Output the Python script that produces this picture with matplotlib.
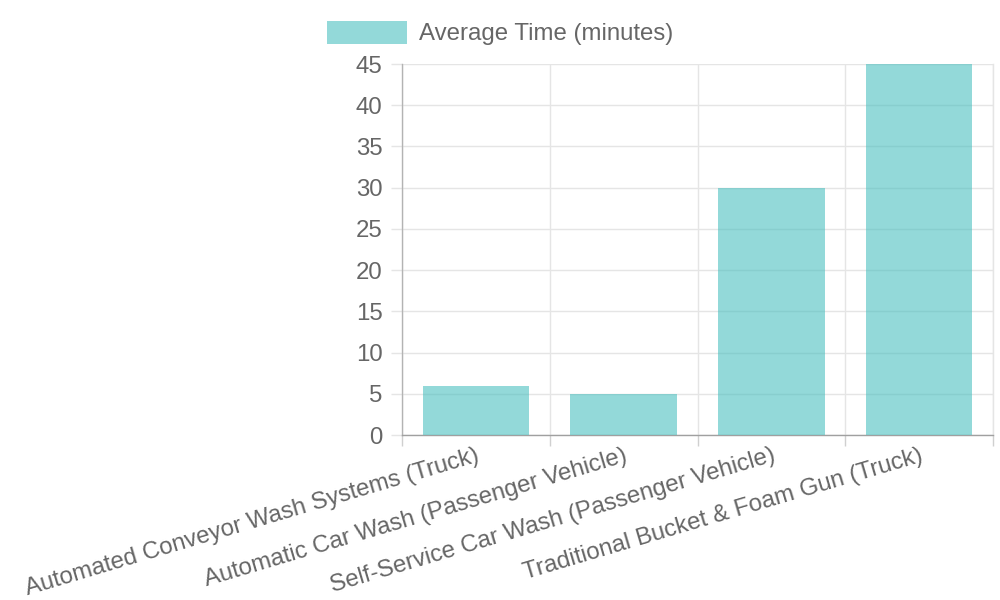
import matplotlib
matplotlib.use("Agg")
import matplotlib.pyplot as plt
from matplotlib.patches import Patch
import numpy as np

categories = [
    "Automated Conveyor Wash Systems (Truck)",
    "Automatic Car Wash (Passenger Vehicle)",
    "Self-Service Car Wash (Passenger Vehicle)",
    "Traditional Bucket & Foam Gun (Truck)",
]
values = [6, 5, 30, 45]
series_label = "Average Time (minutes)"
y_ticks = [0, 5, 10, 15, 20, 25, 30, 35, 40, 45]

plt.rcParams['font.family'] = ['Liberation Sans', 'DejaVu Sans']
TXT = "#666666"
GRID = "#e5e5e5"
FILL = (75/255, 192/255, 192/255, 0.6)
FS = 24 * 72 / 100

fig = plt.figure(figsize=(10, 6), dpi=100)
ax = fig.add_axes([0.402, 0.275, 0.591, 0.6183])

x = np.arange(len(categories))
ax.bar(x, values, width=0.72, color=FILL, edgecolor=FILL, linewidth=0, zorder=3)

ax.set_xlim(-0.5, len(categories) - 0.5)
ax.set_ylim(0, 45)
ax.set_yticks(y_ticks)
ax.set_yticklabels([str(v) for v in y_ticks], fontsize=FS, color=TXT)
ax.tick_params(axis='y', length=8, color=GRID, width=1, pad=6)

ax.set_xticks(x)
ax.set_xticklabels(categories, rotation=16.5, ha='right', rotation_mode='anchor',
                   fontsize=FS, color=TXT)
ax.tick_params(axis='x', which='major', length=0, pad=7)
ax.set_xticks(np.arange(-0.5, len(categories), 1.0), minor=True)
ax.tick_params(axis='x', which='minor', length=8, color="#d0d0d0", width=1)
ax.grid(True, axis='y', color=GRID, linewidth=1, zorder=0)
ax.grid(True, axis='x', which='minor', color=GRID, linewidth=1, zorder=0)

ax.spines['top'].set_visible(False)
ax.spines['right'].set_color(GRID)
ax.spines['left'].set_color("#b3b3b3")
ax.spines['bottom'].set_color("#a0a0a0")
for s in ax.spines.values():
    s.set_linewidth(1)

handle = Patch(facecolor=FILL, edgecolor=FILL, linewidth=0)
leg = fig.legend([handle], [series_label], loc='center', bbox_to_anchor=(0.5, 0.945),
                 frameon=False, fontsize=FS, handlelength=80/24, handleheight=1.1,
                 handletextpad=12/24, labelcolor=TXT)

fig.savefig("out.png", dpi=100, facecolor="white")
